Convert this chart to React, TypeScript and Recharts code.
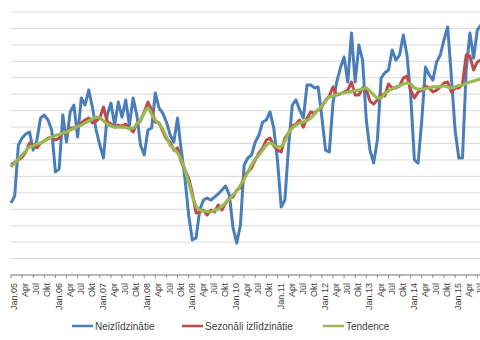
import React from 'react';
import { LineChart, Line, XAxis, YAxis, CartesianGrid } from 'recharts';

const monthNames = ['Jan', 'Feb', 'Mar', 'Apr', 'Mai', 'Jūn', 'Jūl', 'Aug', 'Sep', 'Okt', 'Nov', 'Dec'];
const years = ['05', '06', '07', '08', '09', '10', '11', '12', '13', '14', '15'];
const pointCount = 128; // Jan.05 .. Aug.15

const categories: string[] = [];
for (const yy of years) {
  for (const m of monthNames) {
    if (categories.length < pointCount) categories.push(m === 'Jan' ? `Jan.${yy}` : m);
  }
}

const raw = [
  43.8, 48.1, 79.1, 83.3, 85.8, 87.0, 76.0, 82.1, 95.5, 97.3, 94.3, 88.2,
  62.7, 64.5, 97.3, 80.9, 99.2, 103.4, 83.9, 107.7, 103.4, 112.5, 102.2, 88.2,
  79.1, 71.2, 97.3, 104.6, 91.2, 105.2, 96.1, 106.5, 91.2, 107.7, 97.3, 79.1,
  73.0, 88.2, 89.4, 110.7, 101.6, 98.5, 93.1, 85.2, 80.9, 95.5, 76.0, 59.0,
  36.5, 21.3, 22.5, 39.5, 45.6, 46.8, 45.6, 47.4, 49.3, 51.7, 54.1, 48.7,
  28.6, 19.5, 30.4, 66.9, 71.2, 73.0, 80.9, 85.2, 93.1, 94.3, 99.2, 89.4,
  70.0, 41.4, 45.6, 77.9, 103.4, 106.5, 100.4, 95.5, 115.6, 115.6, 113.8, 114.4,
  96.1, 76.0, 74.8, 104.6, 117.4, 125.9, 132.6, 117.4, 147.2, 117.4, 139.9, 130.8,
  94.3, 76.0, 68.1, 82.1, 119.8, 122.9, 124.7, 136.9, 130.8, 133.8, 146.0, 133.8,
  109.5, 70.0, 68.1, 94.3, 126.5, 121.7, 118.6, 129.6, 133.8, 143.0, 150.9, 120.4,
  88.2, 71.2, 71.2, 124.7, 147.2, 132.0, 149.0, 152.1,
];

const seasonal = [
  66.9, 68.7, 70.0, 71.8, 74.8, 80.3, 79.1, 77.3, 80.3, 81.5, 83.3, 83.9,
  82.1, 83.3, 86.4, 86.4, 89.4, 89.4, 90.6, 92.5, 94.3, 95.5, 92.5, 93.7,
  95.5, 102.2, 93.1, 91.9, 90.0, 91.2, 90.6, 91.9, 89.4, 87.0, 91.9, 93.7,
  99.2, 105.2, 100.4, 93.1, 92.5, 87.6, 82.7, 80.9, 76.0, 77.3, 68.7, 63.9,
  59.0, 49.9, 37.7, 38.3, 39.5, 36.5, 39.5, 38.3, 42.6, 39.5, 43.8, 46.8,
  47.4, 51.7, 52.9, 60.2, 62.7, 65.1, 70.0, 74.2, 77.3, 82.1, 83.3, 78.5,
  76.0, 74.8, 83.3, 86.4, 90.6, 91.9, 94.3, 90.0, 95.5, 99.2, 98.5, 100.4,
  102.2, 106.5, 108.9, 114.4, 109.5, 110.1, 111.3, 112.5, 117.4, 109.5, 109.5, 113.8,
  112.5, 105.8, 104.0, 106.5, 110.1, 108.9, 116.2, 113.8, 113.8, 115.0, 119.8, 121.1,
  112.5, 107.7, 111.3, 112.5, 115.0, 113.8, 111.3, 112.5, 114.4, 116.8, 117.4, 111.3,
  113.8, 113.8, 116.2, 133.8, 133.2, 124.7, 129.6, 130.8,
];

const trend = [
  65.7, 68.1, 70.6, 73.0, 75.4, 77.9, 78.5, 79.7, 80.3, 81.5, 82.7, 83.9,
  84.9, 85.5, 86.4, 87.0, 88.2, 89.1, 90.3, 91.2, 92.5, 93.7, 94.9, 96.1,
  95.5, 93.7, 91.9, 90.6, 90.0, 90.0, 90.0, 89.7, 89.1, 89.4, 91.9, 94.3,
  98.5, 101.6, 97.9, 94.3, 91.9, 88.8, 83.9, 79.1, 76.6, 74.2, 70.0, 63.9,
  56.6, 48.1, 42.0, 39.5, 38.9, 38.6, 38.3, 39.5, 40.1, 42.0, 43.8, 46.2,
  48.7, 51.1, 54.7, 58.4, 62.7, 66.9, 70.6, 73.0, 76.0, 79.1, 80.3, 79.1,
  77.9, 78.2, 81.5, 86.4, 89.4, 91.2, 92.5, 93.1, 94.0, 95.5, 97.9, 100.4,
  102.8, 105.8, 108.3, 108.9, 109.8, 110.4, 110.7, 111.3, 111.6, 112.2, 112.5, 113.1,
  113.8, 111.9, 109.5, 107.7, 107.7, 110.7, 111.9, 113.1, 114.4, 115.0, 116.2, 116.8,
  116.2, 113.8, 113.1, 113.1, 113.4, 113.8, 114.4, 114.4, 114.7, 115.0, 114.4, 113.8,
  114.4, 115.3, 115.6, 116.5, 117.4, 118.0, 118.6, 119.2,
];

const yTicks = [0, 10, 20, 30, 40, 50, 60, 70, 80, 90, 100, 110, 120, 130, 140, 150, 160];

const seriesNames = ['Neizlīdzinātie', 'Sezonāli izlīdzinātie', 'Tendence'];
const seriesColors = ['#4A7EBB', '#BE4B48', '#98B954'];

const data = categories.map((c, i) => ({
  name: c,
  raw: raw[i],
  seasonal: seasonal[i],
  trend: trend[i],
}));

const FONT = '"Liberation Sans", Arial, sans-serif';

const RotatedTick = (props: any) => {
  const { x, y, payload } = props;
  const ax = x + 3;
  const ay = y + 3;
  return (
    <text
      x={ax}
      y={ay}
      transform={`rotate(-90 ${ax} ${ay})`}
      textAnchor="end"
      dy="0.35em"
      fontSize={9}
      fontFamily={FONT}
      fill="#404040"
    >
      {payload.value}
    </text>
  );
};

const legendItems = [
  { x: 72, name: seriesNames[0], color: seriesColors[0] },
  { x: 182, name: seriesNames[1], color: seriesColors[1] },
  { x: 323, name: seriesNames[2], color: seriesColors[2] },
];

export default function App() {
  return (
    <div
      style={{
        position: 'absolute',
        left: 0,
        top: 0,
        width: 480,
        height: 340,
        overflow: 'hidden',
        background: '#ffffff',
      }}
    >
      <LineChart
        width={481}
        height={340}
        data={data}
        margin={{ top: 12, right: 0, left: 11, bottom: 15 }}
      >
        <CartesianGrid vertical={false} stroke="#D9D9D9" strokeWidth={1} />
        <XAxis
          dataKey="name"
          interval={2}
          height={50}
          tickSize={3}
          tickMargin={2}
          stroke="#868686"
          tickLine={{ stroke: '#868686' }}
          axisLine={{ stroke: '#868686' }}
          tick={<RotatedTick />}
        />
        <YAxis
          width={0}
          domain={[0, 160]}
          ticks={yTicks}
          interval={0}
          tickFormatter={() => ''}
          tickLine={false}
          axisLine={{ stroke: '#868686' }}
        />
        <Line
          type="linear"
          dataKey="raw"
          name={seriesNames[0]}
          stroke={seriesColors[0]}
          strokeWidth={3}
          dot={false}
          isAnimationActive={false}
          strokeLinejoin="round"
        />
        <Line
          type="linear"
          dataKey="seasonal"
          name={seriesNames[1]}
          stroke={seriesColors[1]}
          strokeWidth={3}
          dot={false}
          isAnimationActive={false}
          strokeLinejoin="round"
        />
        <Line
          type="monotone"
          dataKey="trend"
          name={seriesNames[2]}
          stroke={seriesColors[2]}
          strokeWidth={3.2}
          dot={false}
          isAnimationActive={false}
          strokeLinejoin="round"
        />
      </LineChart>
      <svg
        width={480}
        height={20}
        style={{ position: 'absolute', left: 0, top: 316 }}
      >
        {legendItems.map((it) => (
          <g key={it.name}>
            <line x1={it.x} y1={10} x2={it.x + 21} y2={10} stroke={it.color} strokeWidth={2.5} />
            <text
              x={it.x + 23}
              y={10}
              dy="0.35em"
              fontSize={10}
              fontFamily={FONT}
              fill="#404040"
            >
              {it.name}
            </text>
          </g>
        ))}
      </svg>
    </div>
  );
}
